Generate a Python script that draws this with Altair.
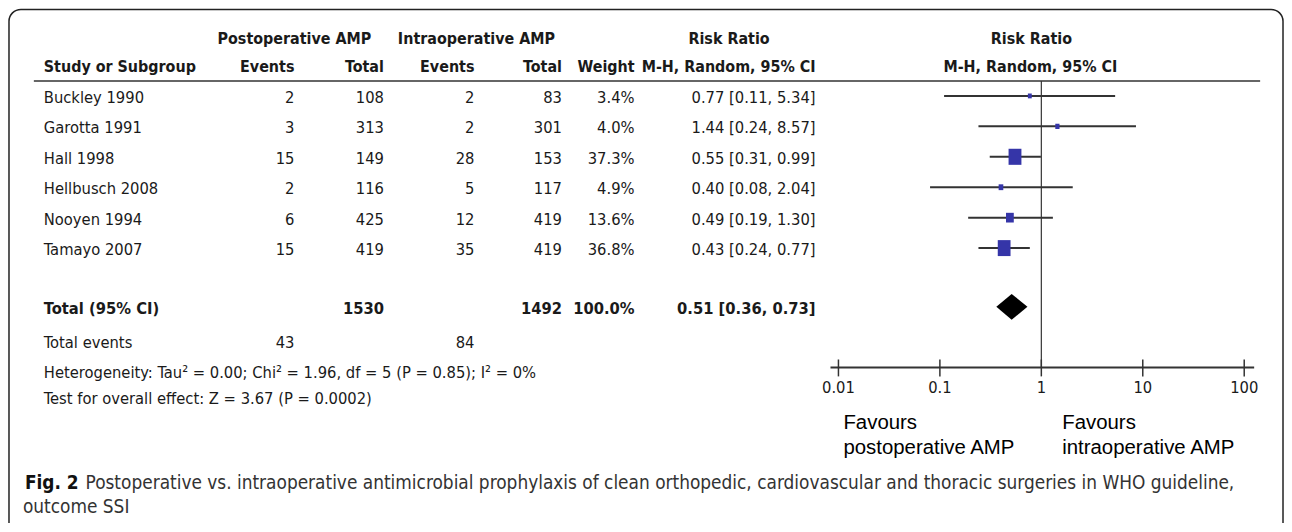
import altair as alt
import pandas as pd

# ---------------- data ----------------
studies = ["Buckley 1990", "Garotta 1991", "Hall 1998", "Hellbusch 2008", "Nooyen 1994", "Tamayo 2007"]
post_events = [2, 3, 15, 2, 6, 15]
post_total = [108, 313, 149, 116, 425, 419]
intra_events = [2, 2, 28, 5, 12, 35]
intra_total = [83, 301, 153, 117, 419, 419]
weights = [3.4, 4.0, 37.3, 4.9, 13.6, 36.8]
rr = [0.77, 1.44, 0.55, 0.40, 0.49, 0.43]
rr_lo = [0.11, 0.24, 0.31, 0.08, 0.19, 0.24]
rr_hi = [5.34, 8.57, 0.99, 2.04, 1.30, 0.77]

total_label = "Total (95% CI)"
total_post, total_intra = 1530, 1492
total_weight = 100.0
total_rr, total_lo, total_hi = 0.51, 0.36, 0.73
events_post_sum, events_intra_sum = 43, 84

heterogeneity = "Heterogeneity: Tau\u00b2 = 0.00; Chi\u00b2 = 1.96, df = 5 (P = 0.85); I\u00b2 = 0%"
overall = "Test for overall effect: Z = 3.67 (P = 0.0002)"

tick_values = [0.01, 0.1, 1, 10, 100]
tick_labels = ["0.01", "0.1", "1", "10", "100"]

caption_bold = "Fig. 2"
caption_line1 = "Postoperative vs. intraoperative antimicrobial prophylaxis of clean orthopedic, cardiovascular and thoracic surgeries in WHO guideline,"
caption_line2 = "outcome SSI"

# ---------------- layout ----------------
W, H = 1283, 515
M = 8  # page margin


def px(v):
    return v - M


TFONT = "DejaVu Sans Condensed, Roboto, sans-serif"
CFONT = "DejaVu Sans Condensed, Roboto, sans-serif"
AFONT = "Liberation Sans, Arial, sans-serif"
FS = 16.5
HFS = 16
TXT = "#1a1a1a"
LINE = "#333333"
BLUE = "#3535a8"

ROW0, ROWSTEP = px(95), 30.6
ROW_TOTAL, ROW_EVENTS, ROW_HET, ROW_TEST = 6.93, 8.07, 9.05, 9.9

xs = alt.Scale(type="log", domain=[0.01, 100], range=[px(843), px(1251)])
ys = alt.Scale(type="linear", domain=[0, 10], range=[ROW0, ROW0 + 10 * ROWSTEP], zero=False, nice=False)

COL_NAME = px(44)
COL_EV_POST = px(296)
COL_TOT_POST = px(386)
COL_EV_INTRA = px(477)
COL_TOT_INTRA = px(565)
COL_WEIGHT = px(638)
COL_RR = px(820)

# ---------------- tables ----------------
rows = pd.DataFrame({
    "study": studies,
    "row": list(range(len(studies))),
    "pe": post_events,
    "pt": post_total,
    "ie": intra_events,
    "it": intra_total,
    "w": weights,
    "wl": [f"{w:.1f}%" for w in weights],
    "rr": rr,
    "lo": rr_lo,
    "hi": rr_hi,
    "ci": [f"{a:.2f} [{b:.2f}, {c:.2f}]" for a, b, c in zip(rr, rr_lo, rr_hi)],
})

total = pd.DataFrame({
    "row": [ROW_TOTAL],
    "label": [total_label],
    "pt": [total_post],
    "it": [total_intra],
    "wl": [f"{total_weight:.1f}%"],
    "ci": [f"{total_rr:.2f} [{total_lo:.2f}, {total_hi:.2f}]"],
})

Y = alt.Y("row:Q", scale=ys, axis=None)


def col(df, field, x, align="right", bold=False):
    return alt.Chart(df).mark_text(
        align=align, baseline="middle", font=TFONT, fontSize=FS,
        fontWeight="bold" if bold else "normal", color=TXT, dy=2,
    ).encode(x=alt.value(x), y=Y, text=f"{field}:N")


def label(text, x, y, align="left", bold=False, font=TFONT, size=FS, color=TXT, baseline="middle"):
    return alt.Chart(pd.DataFrame({"t": [text]})).mark_text(
        align=align, baseline=baseline, font=font, fontSize=size,
        fontWeight="bold" if bold else "normal", color=color,
    ).encode(x=alt.value(x), y=alt.value(y), text="t:N")


layers = []

# headers
H1, H2 = px(38), px(66)
hdr = dict(bold=True, size=HFS)
layers += [
    label("Postoperative AMP", px(296), H1, align="center", **hdr),
    label("Intraoperative AMP", px(479), H1, align="center", **hdr),
    label("Risk Ratio", px(733), H1, align="center", **hdr),
    label("Study or Subgroup", COL_NAME, H2, **hdr),
    label("Events", COL_EV_POST, H2, align="right", **hdr),
    label("Total", COL_TOT_POST, H2, align="right", **hdr),
    label("Events", COL_EV_INTRA, H2, align="right", **hdr),
    label("Total", COL_TOT_INTRA, H2, align="right", **hdr),
    label("Weight", COL_WEIGHT, H2, align="right", **hdr),
    label("M-H, Random, 95% CI", COL_RR, H2, align="right", **hdr),
    label("Risk Ratio", px(1037), H1, align="center", **hdr),
    label("M-H, Random, 95% CI", px(1036), H2, align="center", **hdr),
]

# header rule
layers.append(
    alt.Chart(pd.DataFrame({"a": [0]})).mark_rule(color=LINE, strokeWidth=1.5).encode(
        x=alt.value(px(34)), x2=alt.value(px(1267)), y=alt.value(px(80))
    )
)

# study rows
layers += [
    col(rows, "study", COL_NAME, align="left"),
    col(rows, "pe", COL_EV_POST),
    col(rows, "pt", COL_TOT_POST),
    col(rows, "ie", COL_EV_INTRA),
    col(rows, "it", COL_TOT_INTRA),
    col(rows, "wl", COL_WEIGHT),
    col(rows, "ci", COL_RR),
]

# total row
layers += [
    col(total, "label", COL_NAME, align="left", bold=True),
    col(total, "pt", COL_TOT_POST, bold=True),
    col(total, "it", COL_TOT_INTRA, bold=True),
    col(total, "wl", COL_WEIGHT, bold=True),
    col(total, "ci", COL_RR, bold=True),
]

# footer rows
foot = pd.DataFrame({
    "row": [ROW_EVENTS, ROW_EVENTS, ROW_EVENTS, ROW_HET, ROW_TEST],
    "t": ["Total events", str(events_post_sum), str(events_intra_sum), heterogeneity, overall],
    "k": ["l", "p", "i", "l", "l"],
})
layers += [
    col(foot[foot.k == "l"], "t", COL_NAME, align="left"),
    col(foot[foot.k == "p"], "t", COL_EV_POST),
    col(foot[foot.k == "i"], "t", COL_EV_INTRA),
]

# ---------------- forest plot ----------------
AXIS_Y = px(368)

# line of no effect
layers.append(
    alt.Chart(pd.DataFrame({"v": [1]})).mark_rule(color=LINE, strokeWidth=1.2).encode(
        x=alt.X("v:Q", scale=xs, axis=None), y=alt.value(px(80)), y2=alt.value(AXIS_Y)
    )
)

# CI lines
layers.append(
    alt.Chart(rows).mark_rule(color=LINE, strokeWidth=2).encode(
        x=alt.X("lo:Q", scale=xs, axis=None), x2="hi:Q", y=Y
    )
)

# weight boxes
layers.append(
    alt.Chart(rows).mark_point(
        shape="M-0.8,-1L0.8,-1L0.8,1L-0.8,1Z", filled=True, opacity=1, color=BLUE
    ).encode(
        x=alt.X("rr:Q", scale=xs, axis=None), y=Y,
        size=alt.Size("w:Q", scale=alt.Scale(domain=[0, 40], range=[0, 280]), legend=None),
    )
)

# diamond
half = 13 / ROWSTEP
diamond = pd.DataFrame({
    "x": [total_lo, total_rr, total_hi],
    "y": [ROW_TOTAL, ROW_TOTAL - half, ROW_TOTAL],
    "y2": [ROW_TOTAL, ROW_TOTAL + half, ROW_TOTAL],
})
layers.append(
    alt.Chart(diamond).mark_area(color="#000000", orient="vertical", opacity=1).encode(
        x=alt.X("x:Q", scale=xs, axis=None), y=alt.Y("y:Q", scale=ys, axis=None), y2="y2:Q"
    )
)

# axis line
ax_df = pd.DataFrame({"a": [tick_values[0]], "b": [tick_values[-1]]})
layers.append(
    alt.Chart(ax_df).mark_rule(color=LINE, strokeWidth=2, xOffset=-8, x2Offset=10).encode(
        x=alt.X("a:Q", scale=xs, axis=None), x2="b:Q", y=alt.value(AXIS_Y)
    )
)

ticks = pd.DataFrame({"v": tick_values, "t": tick_labels})
layers.append(
    alt.Chart(ticks).mark_rule(color=LINE, strokeWidth=1.5).encode(
        x=alt.X("v:Q", scale=xs, axis=None), y=alt.value(AXIS_Y - 8), y2=alt.value(AXIS_Y + 9)
    )
)
layers.append(
    alt.Chart(ticks).mark_text(font=TFONT, fontSize=FS, color=TXT, baseline="middle").encode(
        x=alt.X("v:Q", scale=xs, axis=None), y=alt.value(px(389)), text="t:N"
    )
)

# favours labels
layers += [
    label("Favours", px(848), px(430), font=AFONT, size=20.5, color="#000000", baseline="alphabetic"),
    label("postoperative AMP", px(848), px(455), font=AFONT, size=20.5, color="#000000", baseline="alphabetic"),
    label("Favours", px(1068), px(430), font=AFONT, size=20.5, color="#000000", baseline="alphabetic"),
    label("intraoperative AMP", px(1068), px(455), font=AFONT, size=20.5, color="#000000", baseline="alphabetic"),
]

# caption
CS = 19
layers += [
    label(caption_bold, px(25), px(490), bold=True, font=CFONT, size=CS, color="#111111", baseline="alphabetic"),
    label(caption_line1, px(86), px(490), font=CFONT, size=CS, color="#333333", baseline="alphabetic"),
    label(caption_line2, px(23), px(514), font=CFONT, size=CS, color="#333333", baseline="alphabetic"),
]

# border
layers.append(
    alt.Chart(pd.DataFrame({"a": [0]})).mark_rect(
        fill=None, stroke="#222222", strokeWidth=1.5, cornerRadius=12
    ).encode(x=alt.value(px(9)), x2=alt.value(px(1290)), y=alt.value(px(8)), y2=alt.value(px(540)))
)

chart = alt.layer(*layers).properties(
    width=W, height=H, padding=0, autosize=alt.AutoSizeParams(type="none")
).resolve_scale(size="independent").configure_view(stroke=None)

chart.save("out.html", embed_options={"renderer": "svg", "actions": False})
